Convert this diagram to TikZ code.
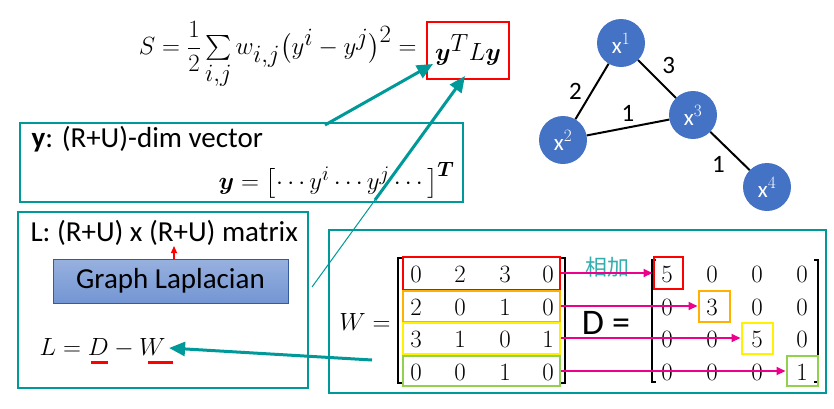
\documentclass[tikz,border=0pt]{standalone}
\usepackage{amsmath}
\usepackage{fontspec}
\setmainfont{Carlito}
\newfontfamily\cjk{Noto Sans CJK SC}
\usetikzlibrary{arrows.meta}
\definecolor{teal1}{HTML}{009999}
\definecolor{nodeblue}{HTML}{4472C4}
\definecolor{myorange}{HTML}{FFB000}
\definecolor{mygreen}{HTML}{92D050}
\begin{document}
\begin{tikzpicture}[x=1pt,y=-1pt,
  vx/.style={circle,fill=nodeblue,minimum size=48pt,inner sep=0,text=white,font=\fontsize{23}{23}\selectfont},
  edge/.style={line width=2pt},
  wl/.style={font=\fontsize{25}{25}\selectfont},
  frame/.style={draw=teal1,line width=2.2pt},
  num/.style={font=\fontsize{30}{30}\selectfont},
  tarrow/.style={teal1,line width=3pt,-{Triangle[length=16pt,width=14pt]}},
  marrow/.style={magenta,line width=2pt,-{Triangle[length=9pt,width=8pt]}},
  hb/.style={line width=2.5pt},
  txt/.style={font=\fontsize{29}{29}\selectfont}]
\useasboundingbox (0,0) rectangle (834,408);
% graph
\node[vx] (x1) at (621,43) {x$^1$};
\node[vx] (x2) at (563,140) {x$^2$};
\node[vx] (x3) at (693,115) {x$^3$};
\node[vx] (x4) at (767,187) {x$^4$};
\draw[edge] (x1) -- node[wl,left=6pt] {2} (x2);
\draw[edge] (x1) -- node[wl,above right=1pt] {3} (x3);
\draw[edge] (x2) -- node[wl,above=2pt] {1} (x3);
\draw[edge] (x3) -- node[wl,below left=1pt] {1} (x4);
% formula
\node[font=\fontsize{35}{35}\selectfont,anchor=east] (S) at (420,55) {$S=\dfrac12\sum\limits_{i,j} w_{i,j}\bigl(y^i-y^j\bigr)^2 =$};
\node[draw=red,line width=2pt,minimum width=82pt,minimum height=57pt,font=\fontsize{33}{33}\selectfont] (yly) at (468,50) {$\boldsymbol{y}^T L\boldsymbol{y}$};
% box 1
\node[frame,minimum width=443pt,minimum height=79pt] (b1) at (241.5,162.5) {};
\node[txt,anchor=west] (b1t) at (28,139) {\textbf{y}: (R+U)-dim vector};
\node[font=\fontsize{28}{28}\selectfont,anchor=east] (b1m) at (458,180) {$\boldsymbol{y}=\bigl[\cdots y^i\cdots y^j\cdots\bigr]^{\boldsymbol{T}}$};
% box 2
\node[frame,minimum width=290pt,minimum height=176pt] (b2) at (163,300) {};
\node[txt,anchor=west] (b2t) at (27,233) {L: (R+U) x (R+U) matrix};
\node[draw=nodeblue!80!black,top color=nodeblue!55,bottom color=nodeblue!75,minimum width=235pt,minimum height=44pt,txt] (gl) at (170.5,281) {Graph Laplacian};
\draw[red,line width=1.2pt,-{Triangle[length=7pt,width=6pt]}] (174,259) -- (174,246);
\node[font=\fontsize{28}{28}\selectfont,anchor=west] (ldw) at (36,348) {$L=D-W$};
\draw[red,line width=3pt] (91,362) -- (108,362);
\draw[red,line width=3pt] (148,362) -- (173,362);
% box 3
\node[frame,minimum width=497pt,minimum height=163pt] (b3) at (577.5,311.5) {};
\node[font=\fontsize{28}{28}\selectfont] (Wl) at (365,322) {$W=$};
\node[font=\fontsize{36}{36}\selectfont] (Dl) at (606,323) {D =};
% brackets
\draw[hb] (402,258) -- (398,258) -- (398,383) -- (402,383);
\draw[hb] (561,258) -- (565,258) -- (565,383) -- (561,383);
\draw[hb] (656,260) -- (652,260) -- (652,382) -- (656,382);
\draw[hb] (814,260) -- (818,260) -- (818,382) -- (814,382);
% W entries
\foreach \a/\b/\c/\d/\y/\n in {0/2/3/0/274/1,2/0/1/0/307/2,3/1/0/1/339/3,0/0/1/0/372/4}{
  \node[num] (w\n1) at (416,\y) {$\a$};
  \node[num] (w\n2) at (460,\y) {$\b$};
  \node[num] (w\n3) at (505,\y) {$\c$};
  \node[num] (w\n4) at (548,\y) {$\d$};
}
\foreach \a/\b/\c/\d/\y/\n in {5/0/0/0/274/1,0/3/0/0/307/2,0/0/5/0/339/3,0/0/0/1/372/4}{
  \node[num] (d\n1) at (667,\y) {$\a$};
  \node[num] (d\n2) at (712,\y) {$\b$};
  \node[num] (d\n3) at (757,\y) {$\c$};
  \node[num] (d\n4) at (802,\y) {$\d$};
}
% row boxes
\node[draw=red,line width=2pt,minimum width=157pt,minimum height=33pt] (r1) at (481.5,273) {};
\node[draw=myorange,line width=2pt,minimum width=157pt,minimum height=31pt] (r2) at (481.5,306) {};
\node[draw=yellow,line width=2pt,minimum width=157pt,minimum height=31pt] (r3) at (481.5,338) {};
\node[draw=mygreen,line width=2pt,minimum width=157pt,minimum height=30pt] (r4) at (481.5,371) {};
\node[draw=red,line width=2pt,minimum width=29pt,minimum height=32pt] (e1) at (668,273) {};
\node[draw=myorange,line width=2pt,minimum width=31pt,minimum height=31pt] (e2) at (714,306) {};
\node[draw=yellow,line width=2pt,minimum width=31pt,minimum height=31pt] (e3) at (757,338) {};
\node[draw=mygreen,line width=2pt,minimum width=31pt,minimum height=30pt] (e4) at (802,371) {};
% magenta arrows
\node[text=teal1!80,font=\cjk\fontsize{22}{22}\selectfont] (hj) at (607,267) {相加};
\draw[marrow] (r1.east) -- (e1.west);
\draw[marrow] (r2.east) -- (e2.west);
\draw[marrow] (r3.east) -- (e3.west);
\draw[marrow] (r4.east) -- (e4.west);
% teal arrows
\coordinate (a1s) at (325,125);
\coordinate (a2s) at (312,287);
\coordinate (a2m) at (375,200);
\draw[tarrow] (a1s) -- (433,64);
\draw[teal1,line width=1pt] (a2s) -- (a2m);
\draw[tarrow] (a2m) -- (465,76);
\coordinate (a3s) at (372,360);
\draw[tarrow] (a3s) -- (ldw.east);
\end{tikzpicture}
\end{document}
